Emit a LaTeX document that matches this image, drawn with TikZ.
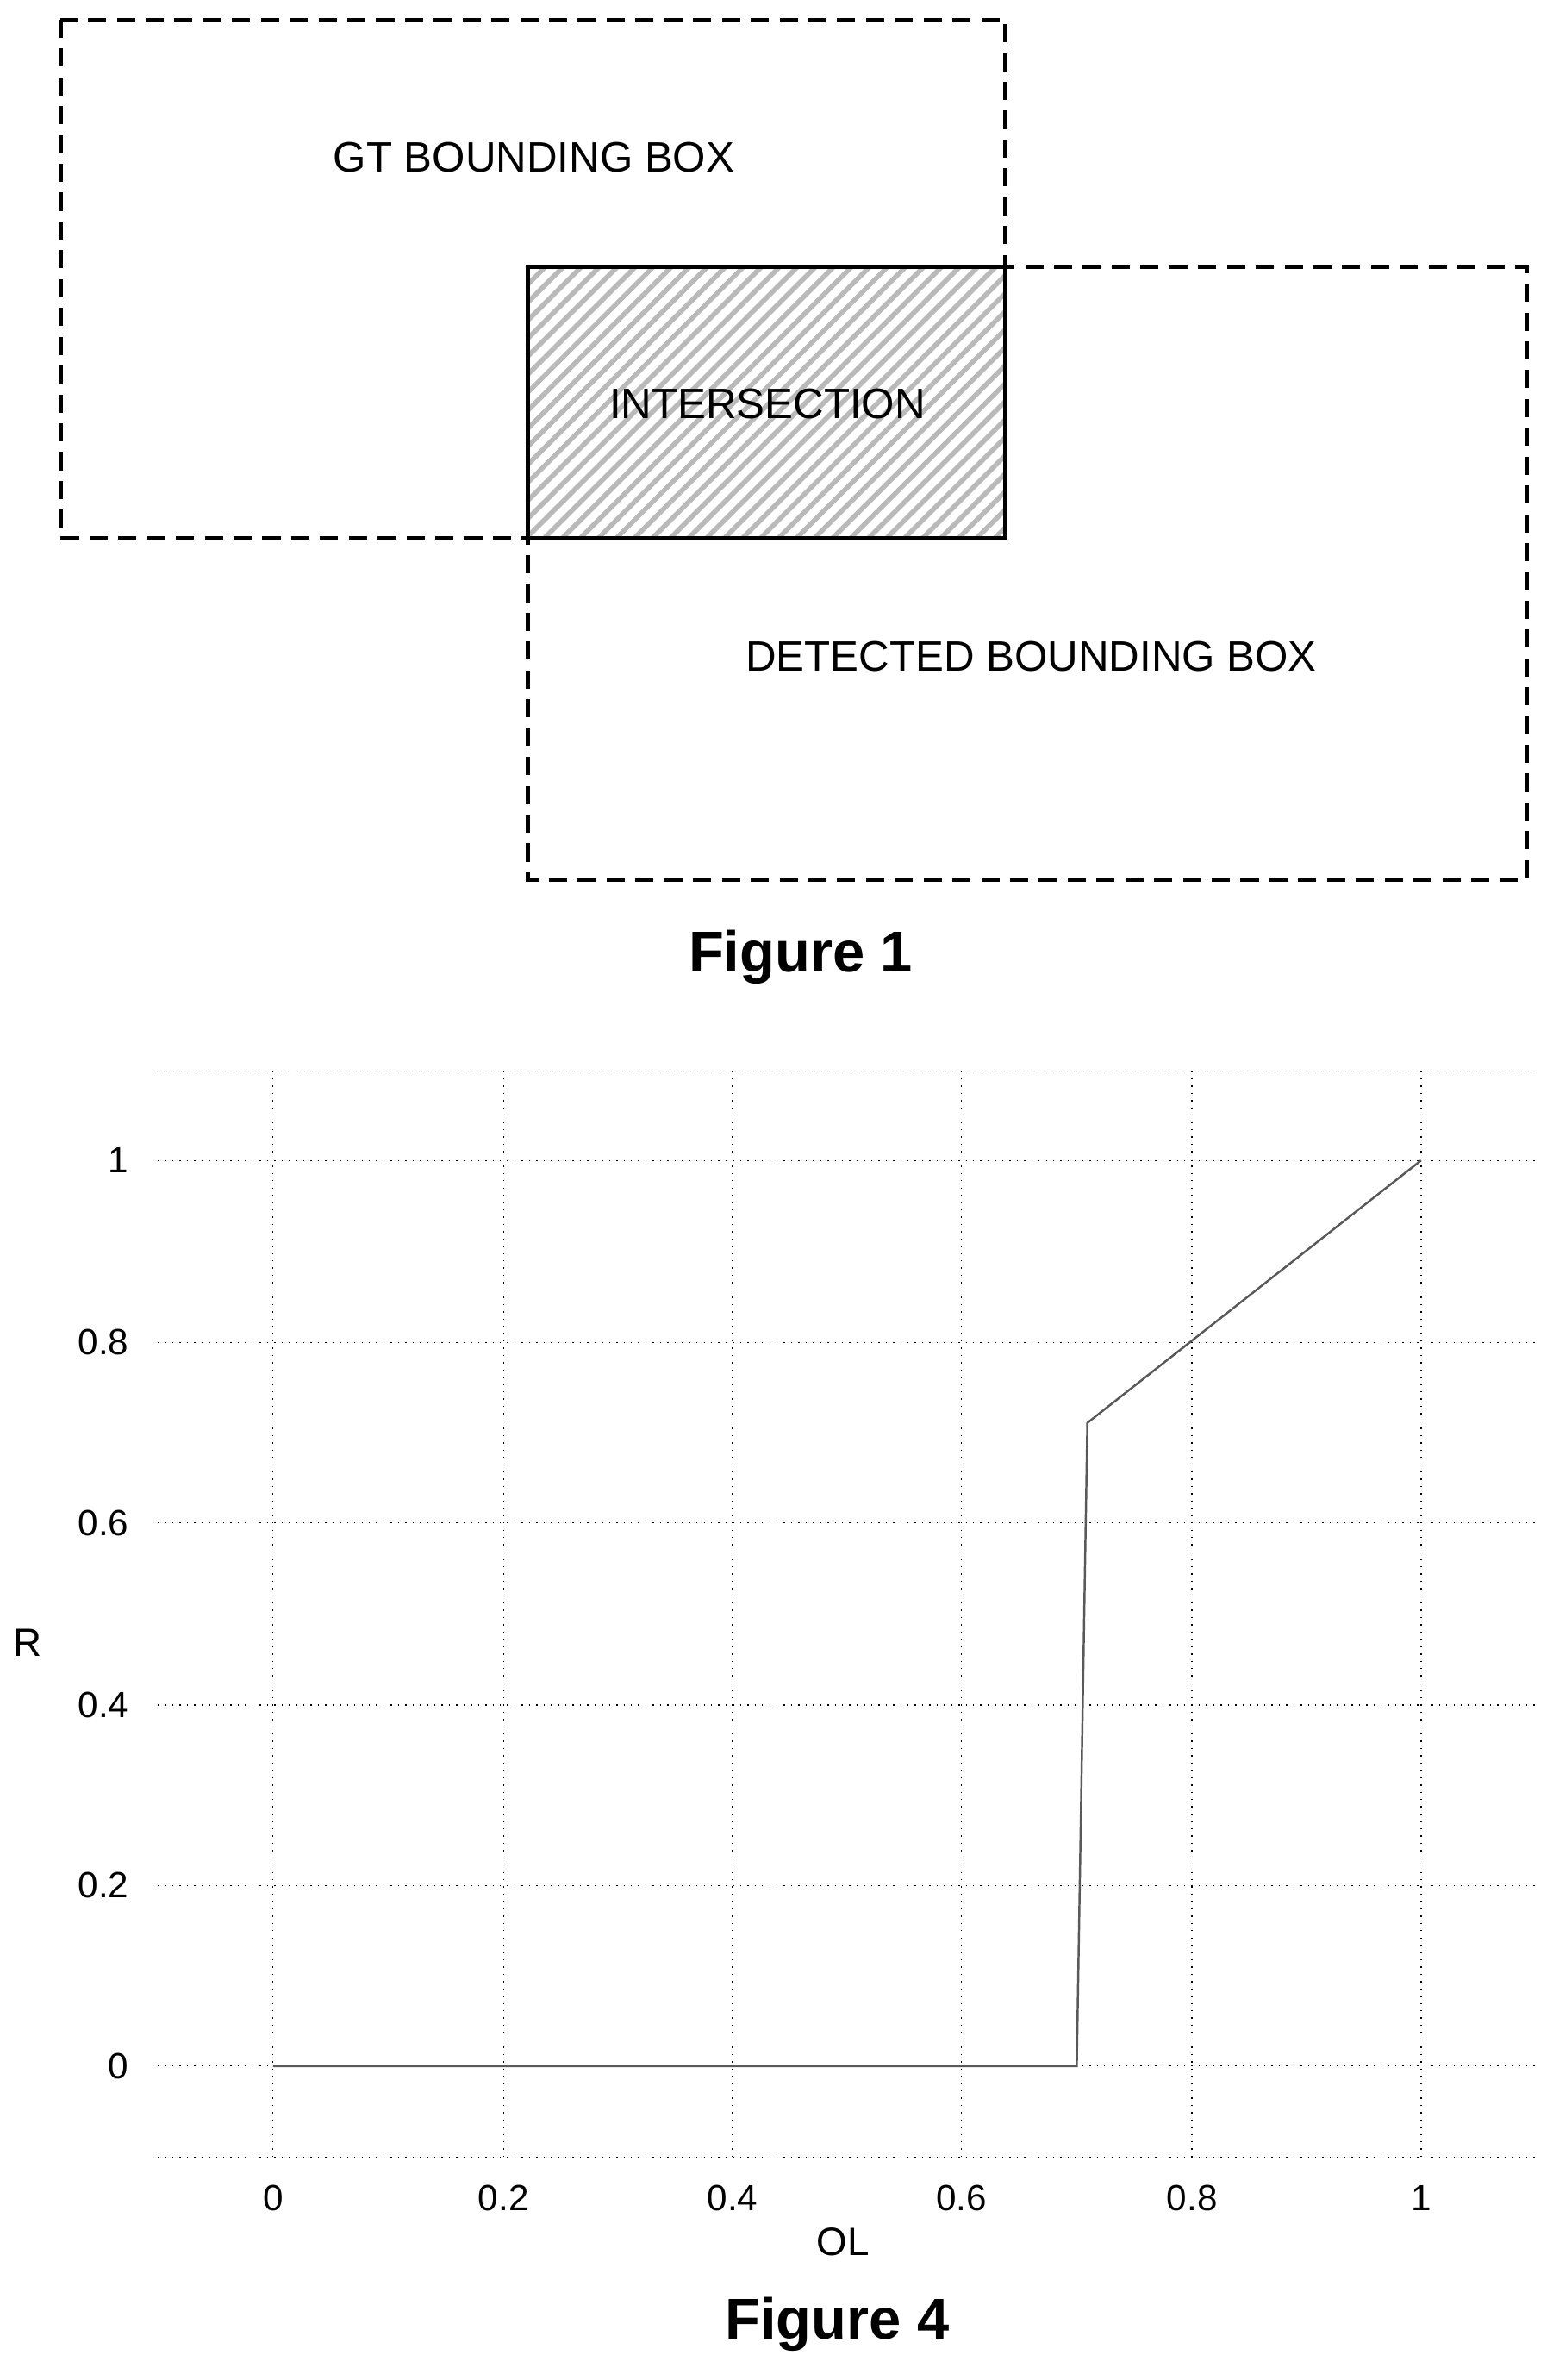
\documentclass[tikz,border=0pt]{standalone}
\usepackage{fontspec}
\setmainfont{Liberation Sans}
\usetikzlibrary{patterns.meta}
\begin{document}
\begin{tikzpicture}[x=0.5pt,y=-0.5pt,
  dbox/.style={draw,line width=1.3pt,dash pattern=on 6pt off 3.5pt},
  lbl/.style={font=\fontsize{14}{16}\selectfont},
  fig/.style={font=\fontsize{19}{22}\selectfont\bfseries},
  tick/.style={font=\fontsize{12}{14}\selectfont},
  grid/.style={draw,line width=0.4pt,dotted}]
\useasboundingbox (0,0) rectangle (1024,1569);
% Figure 1
\draw[dbox] (40,13) rectangle (663,355);
\draw[dbox] (348,176) rectangle (1007,580);
\fill[pattern={Lines[angle=45,distance=4.2pt,line width=1.6pt]},pattern color=gray!55] (348,176) rectangle (663,355);
\draw[line width=1.4pt] (348,176) rectangle (663,355);
\node[lbl] (gt) at (352,104) {GT BOUNDING BOX};
\node[lbl] (in) at (506,266) {INTERSECTION};
\node[lbl] (det) at (680,433) {DETECTED BOUNDING BOX};
\node[fig] (f1) at (528,631) {Figure 1};
% Figure 4 plot
\foreach \x/\t in {180/0,332/0.2,483/0.4,634/0.6,786/0.8,937/1}{
  \draw[grid] (\x,706) -- (\x,1422);
  \node[tick] at (\x,1449) {\t};}
\foreach \y/\t in {765/1,885/0.8,1004/0.6,1124/0.4,1243/0.2,1362/0}{
  \draw[grid] (104,\y) -- (1012,\y);
  \node[tick,anchor=east] at (92,\y) {\t};}
\draw[grid] (104,706) -- (1012,706);
\draw[grid] (104,1422) -- (1012,1422);
\draw[gray!70!black,line width=0.7pt] (180,1362) -- (710,1362) -- (717,938) -- (937,765);
\node[tick,font=\fontsize{13}{15}\selectfont] (ol) at (556,1478) {OL};
\node[tick,font=\fontsize{13}{15}\selectfont] (r) at (18,1083) {R};
\node[fig] (f4) at (552,1532) {Figure 4};
\end{tikzpicture}
\end{document}
